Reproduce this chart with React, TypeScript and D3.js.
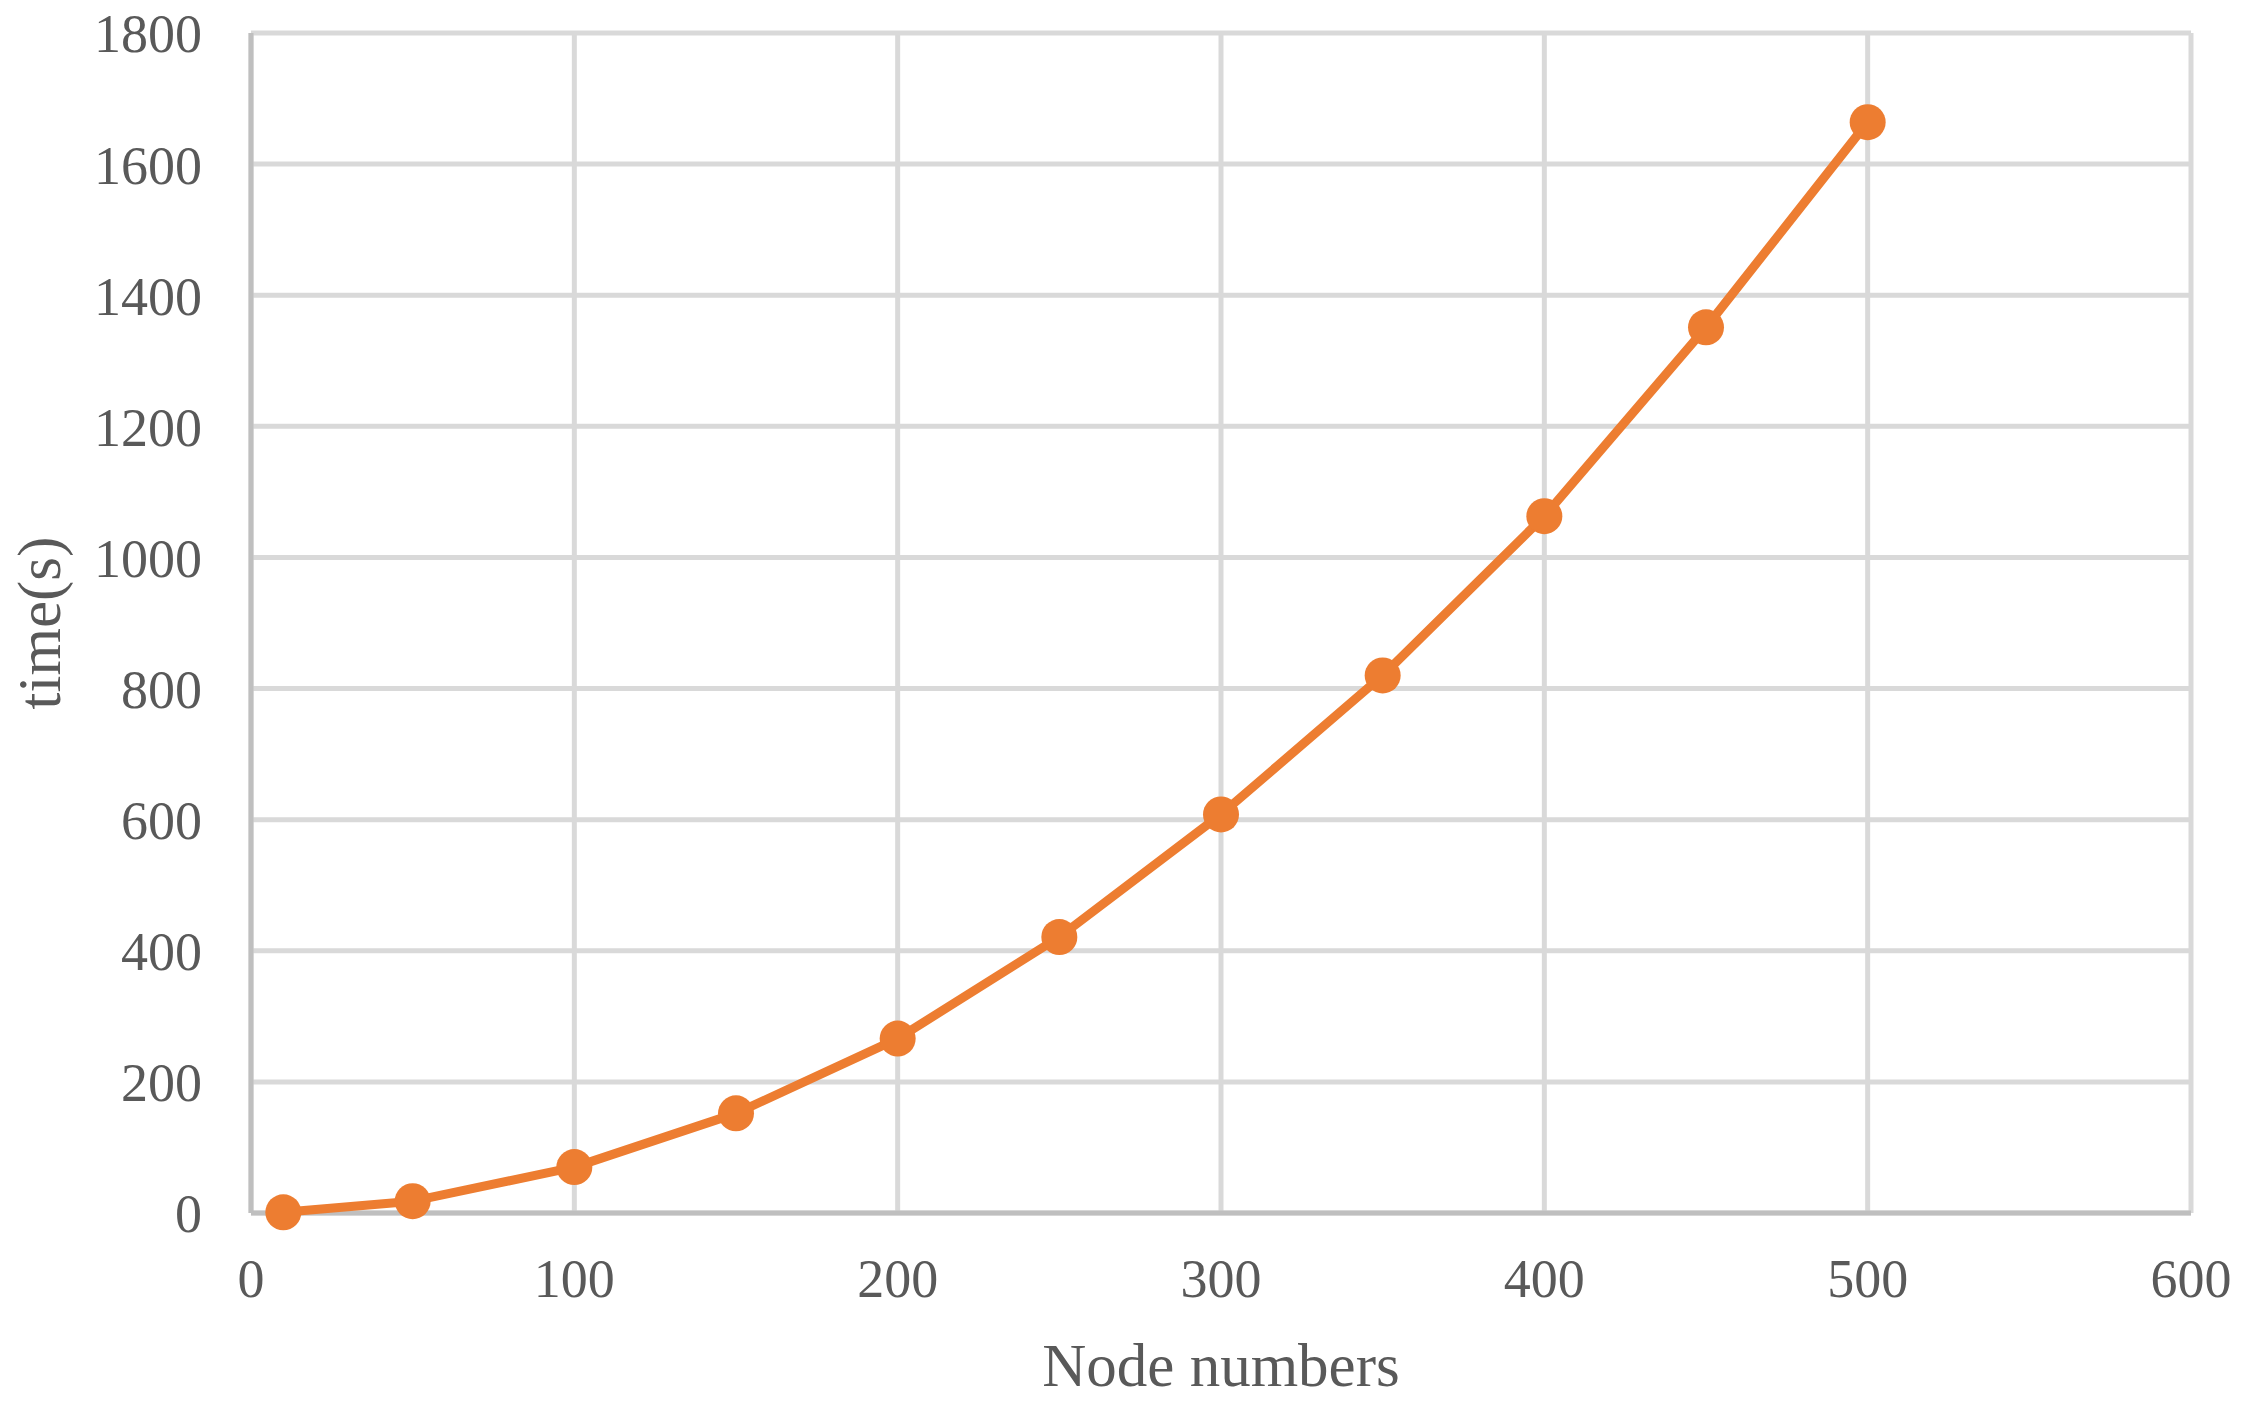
import React from "react";
import * as d3 from "d3";

const nodeNumbers = [10, 50, 100, 150, 200, 250, 300, 350, 400, 450, 500];
const timeSeconds = [1, 18, 70, 152, 266, 421, 608, 820, 1063, 1351, 1664];
const xTicks = [0, 100, 200, 300, 400, 500, 600];
const yTicks = [0, 200, 400, 600, 800, 1000, 1200, 1400, 1600, 1800];
const xTitle = "Node numbers";
const yTitle = "time(s)";

const W = 2243;
const H = 1411;
const M = { left: 251, right: 2191, top: 33, bottom: 1213 };
const FONT = "'Liberation Serif', 'Times New Roman', serif";
const TEXT = "#595959";
const ORANGE = "#ED7D31";

export default function App() {
  const x = d3.scaleLinear().domain([0, 600]).range([M.left, M.right]);
  const y = d3.scaleLinear().domain([0, 1800]).range([M.bottom, M.top]);
  const pts = nodeNumbers.map((n, i) => [n, timeSeconds[i]] as [number, number]);
  const line = d3
    .line<[number, number]>()
    .x((d) => x(d[0]))
    .y((d) => y(d[1]));

  return (
    <svg
      width={W}
      height={H}
      style={{ position: "absolute", left: 0, top: 0, background: "#fff" }}
    >
      <rect x={0} y={0} width={W} height={H} fill="#fff" />
      {/* horizontal gridlines */}
      {yTicks.map((t) => (
        <line
          key={"h" + t}
          x1={M.left}
          x2={M.right}
          y1={y(t)}
          y2={y(t)}
          stroke="#d9d9d9"
          strokeWidth={5}
        />
      ))}
      {/* vertical gridlines */}
      {xTicks.map((t) => (
        <line
          key={"v" + t}
          x1={x(t)}
          x2={x(t)}
          y1={M.top}
          y2={M.bottom}
          stroke="#d9d9d9"
          strokeWidth={5}
        />
      ))}
      {/* axes */}
      <line x1={M.left} x2={M.right} y1={M.bottom} y2={M.bottom} stroke="#bfbfbf" strokeWidth={5} />
      <line x1={M.left} x2={M.left} y1={M.top} y2={M.bottom} stroke="#bfbfbf" strokeWidth={5} />

      {/* y tick labels */}
      {yTicks.map((t) => (
        <text
          key={"yl" + t}
          x={202}
          y={y(t)}
          dy="0.36em"
          textAnchor="end"
          fontFamily={FONT}
          fontSize={54}
          fill={TEXT}
        >
          {t}
        </text>
      ))}
      {/* x tick labels */}
      {xTicks.map((t) => (
        <text
          key={"xl" + t}
          x={x(t)}
          y={1297}
          textAnchor="middle"
          fontFamily={FONT}
          fontSize={54}
          fill={TEXT}
        >
          {t}
        </text>
      ))}

      {/* titles */}
      <text
        x={(M.left + M.right) / 2}
        y={1386}
        textAnchor="middle"
        fontFamily={FONT}
        fontSize={61}
        fill={TEXT}
      >
        {xTitle}
      </text>
      <text
        transform={`translate(60, ${(M.top + M.bottom) / 2}) rotate(-90)`}
        textAnchor="middle"
        fontFamily={FONT}
        fontSize={61}
        fill={TEXT}
      >
        {yTitle}
      </text>

      {/* series */}
      <path d={line(pts) || ""} fill="none" stroke={ORANGE} strokeWidth={9} strokeLinejoin="round" />
      {pts.map((d, i) => (
        <circle key={"p" + i} cx={x(d[0])} cy={y(d[1])} r={18} fill={ORANGE} />
      ))}
    </svg>
  );
}
